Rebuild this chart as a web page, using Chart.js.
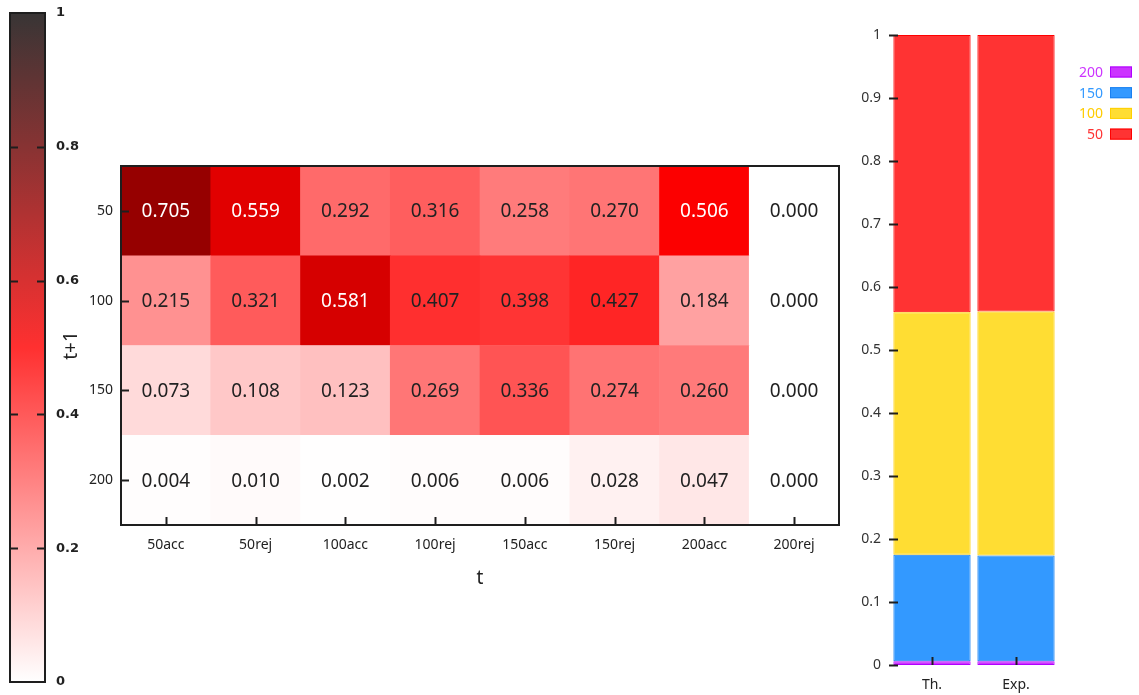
<!DOCTYPE html>
<html>
<head>
<meta charset="utf-8">
<script src="https://cdn.jsdelivr.net/npm/chart.js@4.4.1/dist/chart.umd.min.js"></script>
<style>
  html, body { margin: 0; padding: 0; background: #fff; width: 1139px; height: 695px; overflow: hidden; }
  .box { position: absolute; }
</style>
</head>
<body>
<div class="box" style="left:0;top:0;width:90px;height:695px"><canvas id="scaleBar" width="90" height="695"></canvas></div>
<div class="box" style="left:50px;top:150px;width:800px;height:460px"><canvas id="heat" width="800" height="460"></canvas></div>
<div class="box" style="left:840px;top:0;width:299px;height:695px"><canvas id="share" width="299" height="695"></canvas></div>
<script>
// Transition matrix: column = state at t, row = state at t+1
const stepsT = ['50acc', '50rej', '100acc', '100rej', '150acc', '150rej', '200acc', '200rej'];
const statesT1 = ['50', '100', '150', '200'];
const row50  = [0.705, 0.559, 0.292, 0.316, 0.258, 0.270, 0.506, 0.000];
const row100 = [0.215, 0.321, 0.581, 0.407, 0.398, 0.427, 0.184, 0.000];
const row150 = [0.073, 0.108, 0.123, 0.269, 0.336, 0.274, 0.260, 0.000];
const row200 = [0.004, 0.010, 0.002, 0.006, 0.006, 0.028, 0.047, 0.000];

// Stationary shares, theoretical vs. experimental
const shareGroups = ['Th.', 'Exp.'];
const share200 = [0.006, 0.006];
const share150 = [0.169, 0.168];
const share100 = [0.385, 0.387];
const share50  = [0.440, 0.439];

// Colour scale ticks
const scaleTicks = [0, 0.2, 0.4, 0.6, 0.8, 1];

Chart.defaults.font.family = "'Noto Sans', sans-serif";
Chart.defaults.color = '#222';
Chart.defaults.animation = false;

// white -> red -> dark red
function heatColor(v) {
  if (v <= 0.5) {
    const g = Math.round(255 * (1 - v / 0.5));
    return `rgb(255,${g},${g})`;
  }
  const r = Math.round(255 * (1 - (v - 0.5) / 0.5));
  return `rgb(${r},0,0)`;
}

// fix axis sizes so the plot areas land where wanted
function fixedWidth(w) {
  return s => { s.width = w; s.paddingTop = 0; s.paddingBottom = 0; };
}
function fixedHeight(h) {
  return s => { s.height = h; s.paddingLeft = 0; s.paddingRight = 0; };
}

/* ---------- colour scale bar ---------- */
const scaleFrame = {
  id: 'scaleFrame',
  afterDatasetsDraw(chart) {
    const { ctx, chartArea: a } = chart;
    const y = chart.scales.y;
    ctx.save();
    ctx.strokeStyle = '#1e1e1e';
    ctx.lineWidth = 2;
    ctx.strokeRect(a.left, a.top, a.right - a.left, a.bottom - a.top);
    scaleTicks.filter(t => t > 0 && t < 1).forEach(t => {
      const py = Math.round(y.getPixelForValue(t)) + 0.5;
      ctx.beginPath();
      ctx.moveTo(a.left, py); ctx.lineTo(a.left + 8, py);
      ctx.moveTo(a.right, py); ctx.lineTo(a.right - 8, py);
      ctx.stroke();
    });
    ctx.restore();
  }
};

new Chart(document.getElementById('scaleBar'), {
  type: 'bar',
  data: {
    labels: [''],
    datasets: [{
      data: [scaleTicks[scaleTicks.length - 1]],
      categoryPercentage: 1,
      barPercentage: 1,
      borderWidth: 0,
      backgroundColor(c) {
        const a = c.chart.chartArea;
        if (!a) return '#fff';
        const g = c.chart.ctx.createLinearGradient(0, a.bottom, 0, a.top);
        g.addColorStop(0, '#ffffff');
        g.addColorStop(0.5, '#ff3030');
        g.addColorStop(1, '#383535');
        return g;
      }
    }]
  },
  options: {
    responsive: false,
    layout: { padding: { left: 10, top: 13, bottom: 13, right: 0 } },
    plugins: { legend: { display: false }, tooltip: { enabled: false } },
    scales: {
      x: { display: false },
      y: {
        position: 'right',
        min: 0, max: 1,
        afterFit: fixedWidth(45),
        afterBuildTicks(s) { s.ticks = scaleTicks.map(v => ({ value: v })); },
        grid: { display: false, drawTicks: false },
        border: { display: false },
        ticks: {
          padding: 11,
          font: { family: "'DejaVu Sans', sans-serif", size: 13, weight: 'bold' },
          color: '#222',
          callback: v => String(v)
        }
      }
    }
  },
  plugins: [scaleFrame]
});

/* ---------- heat map ---------- */
const rowsBottomUp = [
  { label: '200', values: row200 },
  { label: '150', values: row150 },
  { label: '100', values: row100 },
  { label: '50',  values: row50 }
];

const cellText = {
  id: 'cellText',
  afterDatasetsDraw(chart) {
    const { ctx } = chart;
    ctx.save();
    ctx.font = "19px 'Noto Sans', sans-serif";
    ctx.textAlign = 'center';
    ctx.textBaseline = 'middle';
    chart.data.datasets.forEach((ds, di) => {
      const meta = chart.getDatasetMeta(di);
      meta.data.forEach((bar, i) => {
        const v = ds.cellValues[i];
        ctx.fillStyle = v > 0.5 ? '#ffffff' : '#222222';
        ctx.fillText(v.toFixed(3), bar.x, (bar.y + bar.base) / 2 + 1);
      });
    });
    ctx.restore();
  }
};

const heatFrame = {
  id: 'heatFrame',
  afterDatasetsDraw(chart) {
    const { ctx, chartArea: a } = chart;
    const xs = chart.scales.x, ys = chart.scales.y;
    ctx.save();
    ctx.strokeStyle = '#1e1e1e';
    ctx.lineWidth = 2;
    ctx.strokeRect(a.left, a.top, a.right - a.left, a.bottom - a.top);
    xs.ticks.forEach((t, i) => {
      const px = Math.round(xs.getPixelForTick(i)) + 0.5;
      ctx.beginPath(); ctx.moveTo(px, a.bottom); ctx.lineTo(px, a.bottom - 8); ctx.stroke();
    });
    ys.ticks.forEach((t, i) => {
      const py = Math.round(ys.getPixelForTick(i)) + 0.5;
      ctx.beginPath(); ctx.moveTo(a.left, py); ctx.lineTo(a.left + 8, py); ctx.stroke();
    });
    ctx.restore();
  }
};

new Chart(document.getElementById('heat'), {
  type: 'bar',
  data: {
    labels: stepsT,
    datasets: rowsBottomUp.map(r => ({
      label: r.label,
      cellValues: r.values,
      data: r.values.map(() => 1),
      backgroundColor: r.values.map(heatColor),
      borderWidth: 0,
      categoryPercentage: 1,
      barPercentage: 1
    }))
  },
  options: {
    responsive: false,
    layout: { padding: { left: 0, top: 16, right: 11, bottom: 0 } },
    plugins: { legend: { display: false }, tooltip: { enabled: false } },
    scales: {
      x: {
        stacked: true,
        afterFit: fixedHeight(85),
        grid: { display: false, drawTicks: false },
        border: { display: false },
        ticks: { padding: 12, font: { size: 14 }, color: '#222', maxRotation: 0 },
        title: { display: true, text: 't', font: { size: 19 }, color: '#222', padding: { top: 0, bottom: 20 } }
      },
      y: {
        stacked: true,
        min: 0, max: statesT1.length,
        afterFit: fixedWidth(71),
        afterBuildTicks(s) { s.ticks = rowsBottomUp.map((r, i) => ({ value: i + 0.5 })); },
        grid: { display: false, drawTicks: false },
        border: { display: false },
        ticks: {
          padding: 8,
          font: { size: 14 },
          color: '#222',
          callback: (v, i) => rowsBottomUp[i].label
        },
        title: { display: true, text: 't+1', font: { size: 19 }, color: '#222', padding: { top: 10, bottom: 0 } }
      }
    }
  },
  plugins: [cellText, heatFrame]
});

/* ---------- stacked shares ---------- */
const shareSeries = [
  { label: '200', values: share200, fill: '#cc33ff', edge: '#b000ff', text: '#cc33ff' },
  { label: '150', values: share150, fill: '#3399ff', edge: '#1a80f0', text: '#3399ff' },
  { label: '100', values: share100, fill: '#ffdd33', edge: '#ffd000', text: '#ffcc00' },
  { label: '50',  values: share50,  fill: '#ff3333', edge: '#ff0000', text: '#ff3333' }
];

const shareAxes = {
  id: 'shareAxes',
  afterDatasetsDraw(chart) {
    const { ctx, chartArea: a } = chart;
    const xs = chart.scales.x, ys = chart.scales.y;
    ctx.save();
    ctx.strokeStyle = '#1e1e1e';
    ctx.lineWidth = 2;
    ys.ticks.forEach((t, i) => {
      const py = Math.round(ys.getPixelForTick(i)) + 0.5;
      ctx.beginPath(); ctx.moveTo(a.left - 1, py); ctx.lineTo(a.left + 8, py); ctx.stroke();
    });
    xs.ticks.forEach((t, i) => {
      const px = Math.round(xs.getPixelForTick(i)) + 0.5;
      ctx.beginPath(); ctx.moveTo(px, a.bottom); ctx.lineTo(px, a.bottom - 8); ctx.stroke();
    });

    // legend: label text on the left, swatch on the right, top to bottom in dataset order
    ctx.font = "14px 'Noto Sans', sans-serif";
    ctx.textAlign = 'right';
    ctx.textBaseline = 'middle';
    const swatchL = a.right + 52, rowTop = 72, rowGap = 20.7;
    chart.data.datasets.forEach((ds, i) => {
      const cy = rowTop + i * rowGap;
      ctx.fillStyle = ds.legendText;
      ctx.fillText(ds.label, swatchL - 7, cy + 1);
      ctx.fillStyle = ds.backgroundColor;
      ctx.fillRect(swatchL, cy - 5.5, 22, 11);
      ctx.lineWidth = 1;
      ctx.strokeStyle = ds.borderColor;
      ctx.strokeRect(swatchL + 0.5, cy - 5, 21, 10);
    });
    ctx.restore();
  }
};

new Chart(document.getElementById('share'), {
  type: 'bar',
  data: {
    labels: shareGroups,
    datasets: shareSeries.map(s => ({
      label: s.label,
      data: s.values,
      backgroundColor: s.fill,
      borderColor: s.edge,
      legendText: s.text,
      borderWidth: 1,
      borderSkipped: false,
      categoryPercentage: 1,
      barPercentage: 0.92
    }))
  },
  options: {
    responsive: false,
    layout: { padding: { left: 0, top: 35, right: 81, bottom: 0 } },
    plugins: { legend: { display: false }, tooltip: { enabled: false } },
    scales: {
      x: {
        stacked: true,
        afterFit: fixedHeight(30),
        grid: { display: false, drawTicks: false },
        border: { display: false },
        ticks: { padding: 12, font: { size: 14 }, color: '#222' }
      },
      y: {
        stacked: true,
        min: 0, max: 1,
        afterFit: fixedWidth(50),
        grid: { display: false, drawTicks: false },
        border: { display: false },
        ticks: { stepSize: 0.1, padding: 9, font: { size: 14 }, color: '#333', callback: v => String(+v.toFixed(1)) }
      }
    }
  },
  plugins: [shareAxes]
});
</script>
</body>
</html>
